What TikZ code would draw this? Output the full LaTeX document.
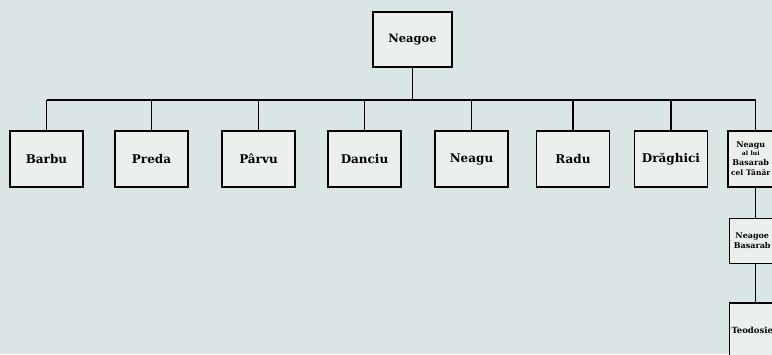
\documentclass[tikz,border=0pt]{standalone}
\usepackage{fontspec}
\setmainfont{DejaVu Serif}
\definecolor{paper}{RGB}{218,229,230}
\definecolor{boxfill}{RGB}{236,240,237}
\begin{document}
\begin{tikzpicture}[
            x=1pt, y=-1pt,
            root-node/.style={rectangle,draw,line width=1.8pt,fill=boxfill,minimum width=79pt,minimum height=55pt,font=\bfseries\fontsize{11.5}{13}\selectfont},
            son-node/.style={rectangle,draw,line width=1.5pt,fill=boxfill,minimum width=73pt,minimum height=56pt,font=\bfseries\fontsize{12}{14}\selectfont},
            side-node/.style={rectangle,draw,line width=1.5pt,fill=boxfill,anchor=west,inner xsep=2pt,inner ysep=1pt,text width=42pt,align=center,font=\bfseries\fontsize{8}{10}\selectfont},
            link/.style={line width=1.6pt},
        ]
            \useasboundingbox (0,0) rectangle (772,354);
            \clip (0,0) rectangle (772,354);
            \fill[paper] (0,0) rectangle (772,354);

            \node[root-node] (neagoe) at (412.5, 39.5) {Neagoe};

            \node[son-node] (barbu) at (46.5, 159) {Barbu};
            \node[son-node] (preda) at (151.5, 159) {Preda};
            \node[son-node] (parvu) at (258.5, 159) {Pârvu};
            \node[son-node] (danciu) at (364.5, 159) {Danciu};
            \node[son-node] (neagu) at (471.5, 159) {Neagu};
            \node[son-node] (radu) at (573, 159) {Radu};
            \node[son-node] (draghici) at (671, 159) {Drăghici};

            \node[side-node, minimum height=56pt] (neagu-b) at (727, 159) {Neagu\\[-2pt]{\fontsize{6}{7}\selectfont al lui}\\Basarab\\{\fontsize{7.5}{9}\selectfont cel Tânăr}};
            \node[side-node, minimum height=45pt] (neagoe-b) at (728.5, 241) {Neagoe\\Basarab};
            \node[side-node, minimum height=54pt, font=\bfseries\fontsize{8.5}{10}\selectfont] (teodosie) at (728.5, 330) {Teodosie};

            % bus from Neagoe to his sons
            \coordinate (bus-l) at (46.5, 100);
            \coordinate (bus-r) at (755.5, 100);
            \draw[link] (bus-l) -- (bus-r);
            \draw[link] (neagoe.south) -- (neagoe.south |- bus-l);
            \foreach \son in {barbu,preda,parvu,danciu,neagu,radu,draghici}
                \draw[link] (\son.north) -- (\son.north |- bus-l);
            \draw[link] (bus-r) -- (bus-r |- neagu-b.north);

            \draw[link] (neagu-b.south -| bus-r) -- (neagoe-b.north -| bus-r);
            \draw[link] (neagoe-b.south -| bus-r) -- (teodosie.north -| bus-r);
        \end{tikzpicture}
\end{document}
